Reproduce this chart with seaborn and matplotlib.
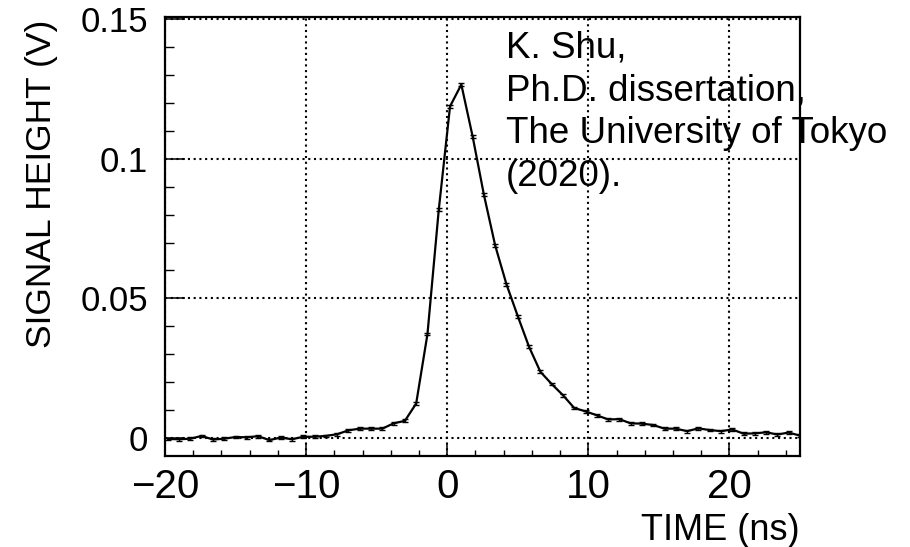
import numpy as np
import pandas as pd
import matplotlib
matplotlib.use("Agg")
import matplotlib.pyplot as plt
import seaborn as sns
from matplotlib.ticker import FixedLocator, FixedFormatter, MultipleLocator

# ---- data ----
time_ns = [-19.8, -19.0, -18.2, -17.4, -16.6, -15.8, -15.0, -14.2, -13.4, -12.6,
           -11.8, -11.0, -10.2, -9.4, -8.6, -7.8, -7.0, -6.2, -5.4, -4.6,
           -3.8, -3.0, -2.2, -1.4, -0.6, 0.2, 1.0, 1.8, 2.6, 3.4,
           4.2, 5.0, 5.8, 6.6, 7.4, 8.2, 9.0, 9.8, 10.6, 11.4,
           12.2, 13.0, 13.8, 14.6, 15.4, 16.2, 17.0, 17.8, 18.6, 19.4,
           20.2, 21.0, 21.8, 22.6, 23.4, 24.2, 25.0]
signal_v = [-0.0004, -0.0005, -0.0003, 0.0007, -0.0006, -0.0003, 0.0003, 0.0002, 0.0006, -0.0008,
            0.0001, -0.0005, 0.0004, 0.0004, 0.0007, 0.0013, 0.0027, 0.0033, 0.0033, 0.0033,
            0.0052, 0.0061, 0.0123, 0.0372, 0.0817, 0.1188, 0.1266, 0.1080, 0.0871, 0.0689,
            0.0550, 0.0436, 0.0326, 0.0237, 0.0193, 0.0153, 0.0107, 0.0095, 0.0081, 0.0066,
            0.0067, 0.0052, 0.0051, 0.0046, 0.0033, 0.0033, 0.0024, 0.0034, 0.0028, 0.0024,
            0.0030, 0.0015, 0.0016, 0.0020, 0.0012, 0.0019, 0.0008]
signal_err = [0.0005] * len(signal_v)

x_ticks = [-20, -10, 0, 10, 20]
x_ticklabels = ["\u221220", "\u221210", "0", "10", "20"]
y_ticks = [0, 0.05, 0.1, 0.15]
y_ticklabels = ["0", "0.05", "0.1", "0.15"]
annotation = "K. Shu,\nPh.D. dissertation,\nThe University of Tokyo\n(2020)."

df = pd.DataFrame({"time": time_ns, "signal": signal_v, "err": signal_err})

sns.set_style("white")
plt.rcParams["font.family"] = ["Liberation Sans", "DejaVu Sans"]
plt.rcParams["text.color"] = "black"
plt.rcParams["xtick.color"] = "black"
plt.rcParams["ytick.color"] = "black"
plt.rcParams["axes.labelcolor"] = "black"

fig = plt.figure(figsize=(9.1, 5.47), dpi=100)
ax = fig.add_axes([165 / 910, 1 - 456 / 547, (800 - 165) / 910, (456 - 17) / 547])

sns.lineplot(data=df, x="time", y="signal", ax=ax, color="black", linewidth=1.6,
             estimator=None, errorbar=None)
ax.errorbar(df["time"], df["signal"], yerr=df["err"], fmt="none", ecolor="black",
            elinewidth=1.0, capsize=2.0, capthick=1.0)

ax.set_xlim(-20, 25)
ax.set_ylim(-0.0065, 0.1508)

ax.xaxis.set_major_locator(FixedLocator(x_ticks))
ax.xaxis.set_major_formatter(FixedFormatter(x_ticklabels))
ax.xaxis.set_minor_locator(MultipleLocator(2))
ax.yaxis.set_major_locator(FixedLocator(y_ticks))
ax.yaxis.set_major_formatter(FixedFormatter(y_ticklabels))
ax.yaxis.set_minor_locator(MultipleLocator(0.01))

ax.tick_params(axis="x", which="major", direction="in", length=8.6, width=1.1,
               labelsize=29, pad=9, bottom=True, top=False, colors="black")
ax.tick_params(axis="x", which="minor", direction="in", length=4.3, width=1.0,
               bottom=True, top=False, colors="black")
ax.tick_params(axis="y", which="major", direction="in", length=14.4, width=1.1,
               labelsize=25, pad=12, left=True, right=False, colors="black")
ax.tick_params(axis="y", which="minor", direction="in", length=6.5, width=1.0,
               left=True, right=False, colors="black")

ax.grid(True, which="major", color="black", linestyle=(0, (1, 1.75)), linewidth=1.5)
for s in ax.spines.values():
    s.set_linewidth(1.6)
    s.set_color("black")

ax.set_xlabel("")
ax.set_ylabel("")
fig.text(800 / 910, 1 - 540 / 547, "TIME (ns)", ha="right", va="baseline",
         fontsize=26, color="black")
fig.text(42 / 910, 1 - 20 / 547, "SIGNAL HEIGHT (V)", ha="center", va="top",
         rotation=90, fontsize=25.5, color="black")
fig.text(506 / 910, 1 - 30 / 547, annotation, ha="left", va="top", fontsize=26.5,
         linespacing=1.3, color="black")

fig.savefig("out.png", dpi=100)
